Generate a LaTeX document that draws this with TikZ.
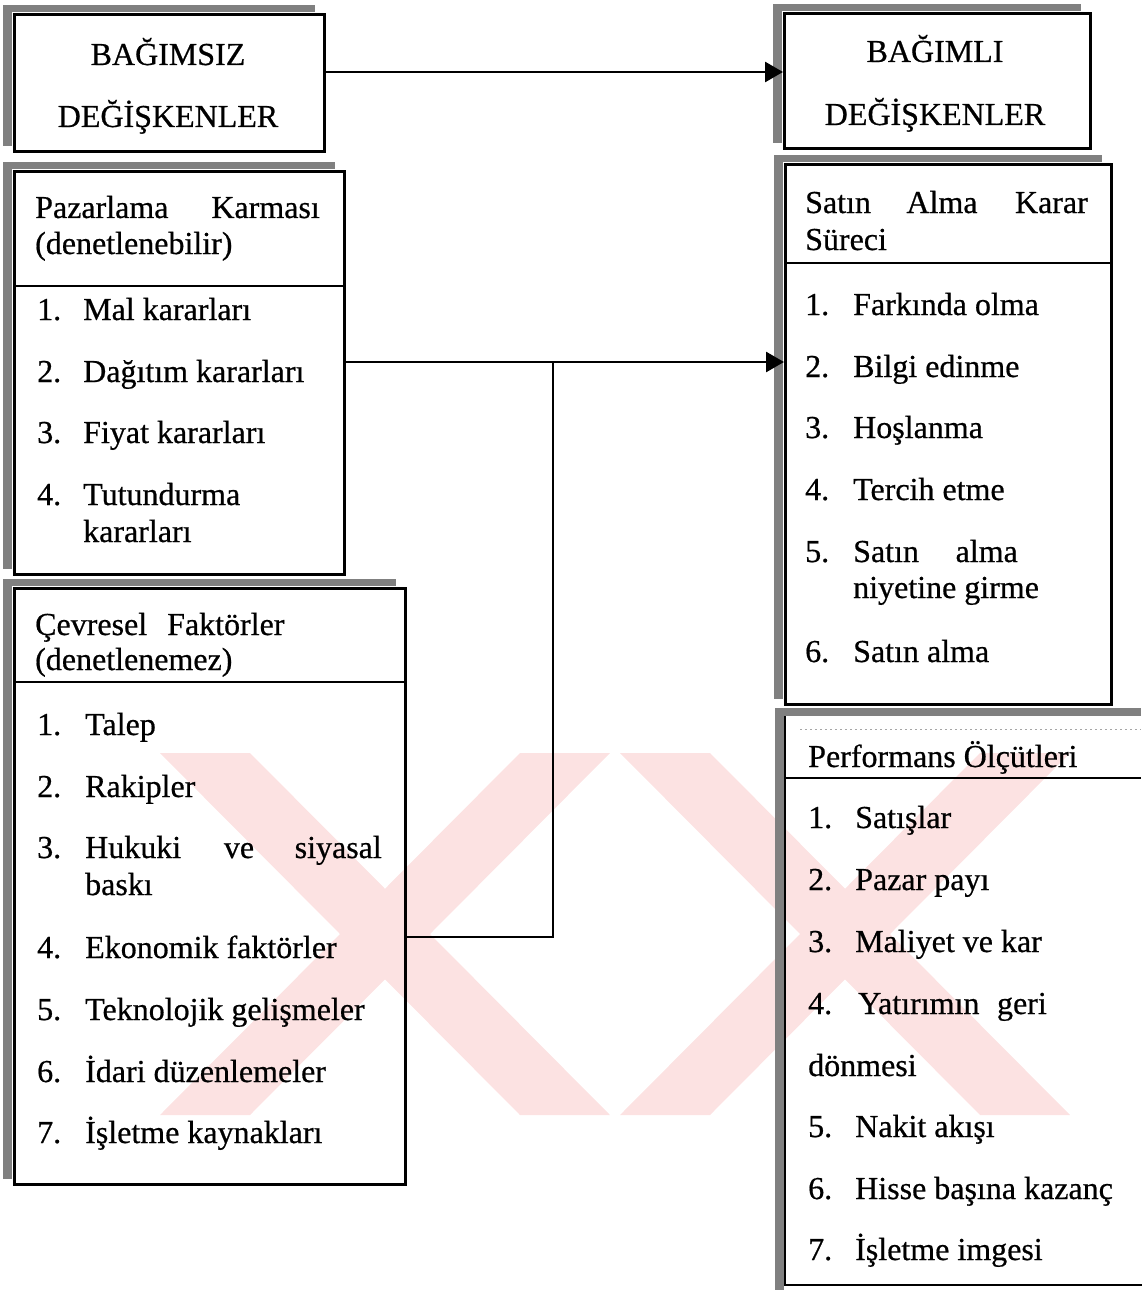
\documentclass[tikz,border=0pt]{standalone}
\usepackage{fontspec}
\setmainfont{Liberation Serif}[FakeBold=0.6]
\usetikzlibrary{arrows.meta}
\definecolor{wmpink}{RGB}{252,226,226}
\definecolor{scangray}{RGB}{128,128,128}
\begin{document}
\begin{tikzpicture}[x=1pt,y=-1pt,
  frame/.style={draw=black,line width=2.8pt,inner sep=0pt,anchor=north west},
  rule/.style={line width=2.6pt},
  band/.style={fill=scangray},
  txt/.style={anchor=base west,inner sep=0pt,font=\fontsize{32}{36}\selectfont},
  rtxt/.style={anchor=base east,inner sep=0pt,font=\fontsize{32}{36}\selectfont},
  ctxt/.style={anchor=base,inner sep=0pt,font=\fontsize{32}{36}\selectfont},
  link/.style={line width=2.8pt},
  arr/.style={link,-{Triangle[length=18pt,width=20pt]}}]
\useasboundingbox (0,0) rectangle (1141,1292);

% faint background emblem
\begin{scope}
  \clip (0,753) rectangle (1141,1115);
  \fill[wmpink] (160,753) -- (250,753) -- (610,1115) -- (520,1115) -- cycle;
  \fill[wmpink] (520,753) -- (610,753) -- (250,1115) -- (160,1115) -- cycle;
  \fill[wmpink] (620,753) -- (710,753) -- (1070,1115) -- (980,1115) -- cycle;
  \fill[wmpink] (980,753) -- (1070,753) -- (710,1115) -- (620,1115) -- cycle;
\end{scope}

% shaded edges on the left and top of each box
\foreach \xa/\ya/\xb/\yb in {13/13/323/150, 13/170/343/573, 13/587/404/1183,
                            783/12/1089/147, 784/163/1110/703} {
  \fill[band] (\xa-10,\ya-8) rectangle (\xa-1,\yb-4);
  \fill[band] (\xa-10,\ya-8) rectangle (\xb-8,\ya-1);
}
\fill[band] (775,708) rectangle (784,1290);
\fill[band] (775,708) rectangle (1141,716);

% boxes
\node[frame,minimum width=310pt,minimum height=137pt] (indep) at (13,13) {};
\node[frame,minimum width=330pt,minimum height=403pt] (mix) at (13,170) {};
\node[frame,minimum width=391pt,minimum height=596pt] (env) at (13,587) {};
\node[frame,minimum width=306pt,minimum height=135pt] (dep) at (783,12) {};
\node[frame,minimum width=326pt,minimum height=540pt] (proc) at (784,163) {};
\coordinate (perfnw) at (785,716);
\coordinate (perfsw) at (785,1285);
\draw[link] (1150,1285) -- (perfsw) -- (perfnw);
\draw[black!35,line width=0.8pt,dash pattern=on 2pt off 3pt] (800,729) -- (1141,729);

% header rules
\draw[rule] (mix.west |- 0,286) -- (mix.east |- 0,286);
\draw[rule] (env.west |- 0,682) -- (env.east |- 0,682);
\draw[rule] (proc.west |- 0,263) -- (proc.east |- 0,263);
\draw[rule] (perfnw |- 0,778) -- (1141,778);

% independent variables
\node[ctxt] (t1a) at (168,65) {BAĞIMSIZ};
\node[ctxt] (t1b) at (168,127) {DEĞİŞKENLER};

\node[txt] (t2a) at (35,218) {Pazarlama};
\node[rtxt] (t2b) at (320,218) {Karması};
\node[txt] (t2c) at (35,254) {(denetlenebilir)};
\foreach \n/\yy/\t in {1/320/Mal kararları, 2/382/Dağıtım kararları,
                       3/443/Fiyat kararları, 4/505/Tutundurma} {
  \node[txt] (mn\n) at (37,\yy) {\n.};
  \node[txt] (mt\n) at (83,\yy) {\t};
}
\node[txt] (mt4b) at (83,542) {kararları};

\node[txt] (t3a) at (35,635) {Çevresel};
\node[txt] (t3b) at (167,635) {Faktörler};
\node[txt] (t3c) at (35,670) {(denetlenemez)};
\foreach \n/\yy/\t in {1/735/Talep, 2/797/Rakipler, 3/858/Hukuki,
                       4/958/Ekonomik faktörler, 5/1020/Teknolojik gelişmeler,
                       6/1082/İdari düzenlemeler, 7/1143/İşletme kaynakları} {
  \node[txt] (en\n) at (37,\yy) {\n.};
  \node[txt] (et\n) at (85,\yy) {\t};
}
\node[ctxt] (et3b) at (239,858) {ve};
\node[rtxt] (et3c) at (382,858) {siyasal};
\node[txt] (et3d) at (85,895) {baskı};

% dependent variables
\node[ctxt] (t4a) at (935,62) {BAĞIMLI};
\node[ctxt] (t4b) at (935,125) {DEĞİŞKENLER};

\node[txt] (t5a) at (805,213) {Satın};
\node[ctxt] (t5b) at (942,213) {Alma};
\node[rtxt] (t5c) at (1088,213) {Karar};
\node[txt] (t5d) at (805,250) {Süreci};
\foreach \n/\yy/\t in {1/315/Farkında olma, 2/377/Bilgi edinme, 3/438/Hoşlanma,
                       4/500/Tercih etme, 5/562/Satın, 6/662/Satın alma} {
  \node[txt] (pn\n) at (805,\yy) {\n.};
  \node[txt] (pt\n) at (853,\yy) {\t};
}
\node[rtxt] (pt5b) at (1018,562) {alma};
\node[txt] (pt5c) at (853,598) {niyetine girme};

\node[txt] (t6a) at (808,767) {Performans Ölçütleri};
\foreach \n/\yy/\t in {1/828/Satışlar, 2/890/Pazar payı, 3/952/Maliyet ve kar,
                       5/1137/Nakit akışı, 6/1199/Hisse başına kazanç,
                       7/1260/İşletme imgesi} {
  \node[txt] (qn\n) at (808,\yy) {\n.};
  \node[txt] (qt\n) at (855,\yy) {\t};
}
\node[txt] (qn4) at (808,1014) {4.};
\node[txt] (qt4) at (858,1014) {Yatırımın};
\node[rtxt] (qt4b) at (1047,1014) {geri};
\node[txt] (qt4c) at (808,1076) {dönmesi};

% connectors
\coordinate (join) at (553,362);
\draw[arr] (indep.east |- 0,72) -- (dep.west |- 0,72);
\draw[arr] (mix.east |- join) -- (proc.west |- join);
\draw[link] (env.east |- 0,937) -| (join);
\end{tikzpicture}
\end{document}
